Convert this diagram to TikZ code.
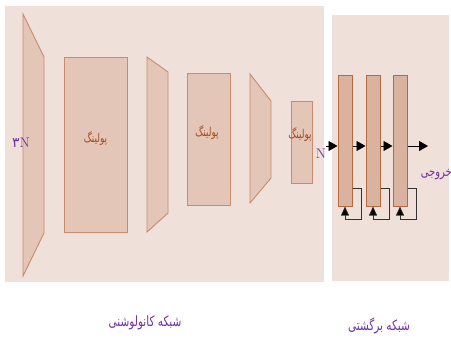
\documentclass[tikz,border=0pt]{standalone}
\usepackage{fontspec}
\usepackage{graphicx}
\usetikzlibrary{arrows.meta,calc}
\TeXXeTstate=1
\newfontfamily\fa[Script=Arabic]{DejaVu Sans}
\newcommand{\tallfa}[1]{\scalebox{1}[1.35]{#1}}
\definecolor{panelbg}{HTML}{EFE0D9}
\definecolor{shapefill}{HTML}{E3C6B8}
\definecolor{shapeline}{HTML}{C98B6A}
\definecolor{cellfill}{HTML}{D9B39F}
\definecolor{cellline}{HTML}{B8683E}
\definecolor{pooltext}{HTML}{A8481E}
\definecolor{labpurple}{HTML}{7030A0}
\tikzset{
  panel/.style={fill=panelbg,draw=none},
  layer/.style={fill=shapefill,draw=shapeline,line width=0.9pt},
  poolbox/.style={layer,minimum width=#1,inner sep=0pt},
  cell/.style={fill=cellfill,draw=cellline,line width=1pt,minimum width=14pt,minimum height=131pt,inner sep=0pt},
  pooltxt/.style={text=pooltext,font=\fa\fontsize{9}{10}\selectfont},
  purplelab/.style={text=labpurple,inner sep=0pt},
  arr/.style={draw=black,line width=0.8pt,-{Triangle[length=9pt,width=10pt]}},
  fb/.style={draw=black!80,line width=0.7pt,-{Triangle[length=9pt,width=8pt,fill=black]}}
}
\begin{document}
\begin{tikzpicture}[x=1pt,y=-1pt]
\useasboundingbox (0,0) rectangle (451,340);
% panels
\fill[panel] (5,6) rectangle (324,282);
\fill[panel] (332,15) rectangle (449,281);
% convolution layers (trapezoids)
\draw[layer] (23,14) -- (44,57) -- (44,233) -- (23,276) -- cycle;
\draw[layer] (147,57) -- (168,72) -- (168,213) -- (147,232) -- cycle;
\draw[layer] (250,74) -- (271,101) -- (271,178) -- (250,203) -- cycle;
% pooling boxes
\node[poolbox=63pt,minimum height=175pt] (p1) at (95.5,144.5) {};
\node[poolbox=43pt,minimum height=132pt] (p2) at (208.5,139) {};
\node[poolbox=21pt,minimum height=82pt] (p3) at (301.5,142) {};
\node[pooltxt] (t1) at (95.5,139) {\tallfa{\beginR پولینگ\endR}};
\node[pooltxt] (t2) at (207,133) {\tallfa{\beginR پولینگ\endR}};
\node[pooltxt] (t3) at (300,135) {\tallfa{\beginR پولینگ\endR}};
% labels
\node[purplelab,font=\fontsize{14}{15}\selectfont] (in3n) at (21,143) {{\fa\fontsize{14}{15}\selectfont ۳}N};
\node[purplelab,font=\fontsize{14}{15}\selectfont] (nlab) at (321,154) {N};
% recurrent cells
\node[cell] (c1) at (345,140.5) {};
\node[cell] (c2) at (373,140.5) {};
\node[cell] (c3) at (400,140.5) {};
\coordinate (in) at (326,146);
\coordinate (out) at (428,146);
\draw[arr] (in) -- (in -| c1.west);
\draw[arr] (c1.east |- in) -- (c2.west |- in);
\draw[arr] (c2.east |- in) -- (c3.west |- in);
\draw[arr] (c3.east |- in) -- (out);
% feedback loops
\foreach \c in {c1,c2,c3}{
  \draw[fb] ($(\c.south east)+(0,-18)$) -- ($(\c.south east)+(9,-18)$) -- ($(\c.south east)+(9,13)$) -- ($(\c.south)+(0,13)$) -- (\c.south);
}
\node[purplelab,font=\fa\fontsize{10}{11}\selectfont,anchor=east] (outlab) at (452,175) {\tallfa{\beginR خروجی\endR}};
% captions
\node[purplelab,font=\fa\fontsize{10.5}{12}\selectfont] (cap1) at (145,323) {\tallfa{\beginR شبکه کانولوشنی\endR}};
\node[purplelab,font=\fa\fontsize{10.5}{12}\selectfont] (cap2) at (379,326) {\tallfa{\beginR شبکه برگشتی\endR}};
\end{tikzpicture}
\end{document}
